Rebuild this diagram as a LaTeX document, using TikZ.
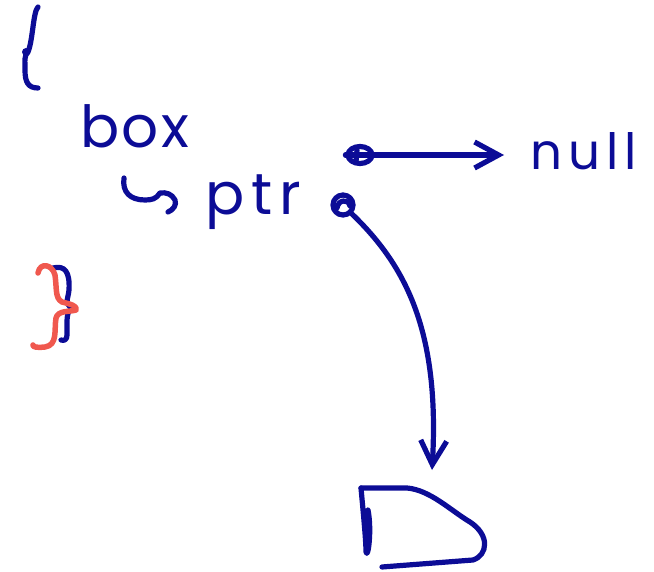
\documentclass[tikz,border=0pt]{standalone}
\usepackage{fontspec}
\setmainfont{Poppins}
\usetikzlibrary{arrows.meta,shapes.geometric}
\definecolor{ink}{RGB}{12,12,150}
\definecolor{redink}{RGB}{240,88,78}
\begin{document}
\begin{tikzpicture}[x=1pt,y=-1pt,
  pen/.style={draw=ink,line width=5.2pt,line cap=round,line join=round},
  redpen/.style={draw=redink,line width=5.5pt,line cap=round,line join=round},
  hand/.style={text=ink,inner sep=0pt,anchor=base west},
  barb/.style={-{Straight Barb[length=24pt,width=26pt]}}]
\useasboundingbox (0,0) rectangle (654,572);
% opening brace
\draw[pen] (38,7) .. controls (33,12) and (33,40) .. (28,52) .. controls (24,56) and (25,60) .. (25,70) .. controls (25,82) and (28,88) .. (38,88);
\fill[ink] (26,52) circle (4pt);
% texts
\node[hand,font=\fontsize{58}{58}\selectfont\addfontfeature{LetterSpace=4}] (box) at (80,148) {box};
\node[hand,font=\fontsize{58}{58}\selectfont\addfontfeature{LetterSpace=12}] (ptr) at (205,215) {ptr};
\node[hand,font=\fontsize{50}{50}\selectfont\addfontfeature{LetterSpace=12}] (null) at (530,170) {null};
% hook
\draw[pen] (124,178) .. controls (122,192) and (130,200) .. (145,200) .. controls (152,200) and (156,199) .. (160,193) .. controls (166,192) and (172,194) .. (175,200) .. controls (177,205) and (173,210) .. (168,212);
% pointer circles
\node[ellipse,pen,minimum width=24pt,minimum height=17pt,inner sep=0pt] (c1) at (360,155) {};
\draw[pen] (c1.west) -- (c1.east);
\draw[pen] (357,150) -- (356,162);
\node[circle,pen,minimum size=20pt,inner sep=0pt] (c2) at (343,205) {};
\draw[pen] (337,208) .. controls (338,200) and (348,198) .. (350,206);
% arrows
\draw[pen,barb] (c1.east) -- ([xshift=-26pt]null.west |- c1.east);
\coordinate (dtop) at (432,470);
\draw[pen,barb] (c2.south east) .. controls (405,265) and (440,330) .. (dtop);
% D shape
\draw[pen] (361,488) -- (407,488) .. controls (430,490) and (450,510) .. (470,522) .. controls (490,535) and (488,555) .. (473,560) -- (382,567);
\draw[pen] (361,488) .. controls (363,510) and (366,540) .. (366,552) .. controls (368,560) and (372,530) .. (368,510);
% closing braces
\draw[pen] (53,268) .. controls (65,265) and (70,272) .. (69,290) .. controls (68,300) and (64,303) .. (72,308) .. controls (66,312) and (67,320) .. (67,335) .. controls (67,340) and (64,341) .. (61,340);
\draw[redpen] (38,273) .. controls (40,262) and (52,264) .. (55,275) .. controls (57,290) and (55,298) .. (62,302) .. controls (70,304) and (78,306) .. (76,310) .. controls (70,312) and (58,310) .. (56,318) .. controls (54,330) and (58,345) .. (45,347) .. controls (38,348) and (32,347) .. (33,345);
\end{tikzpicture}
\end{document}
